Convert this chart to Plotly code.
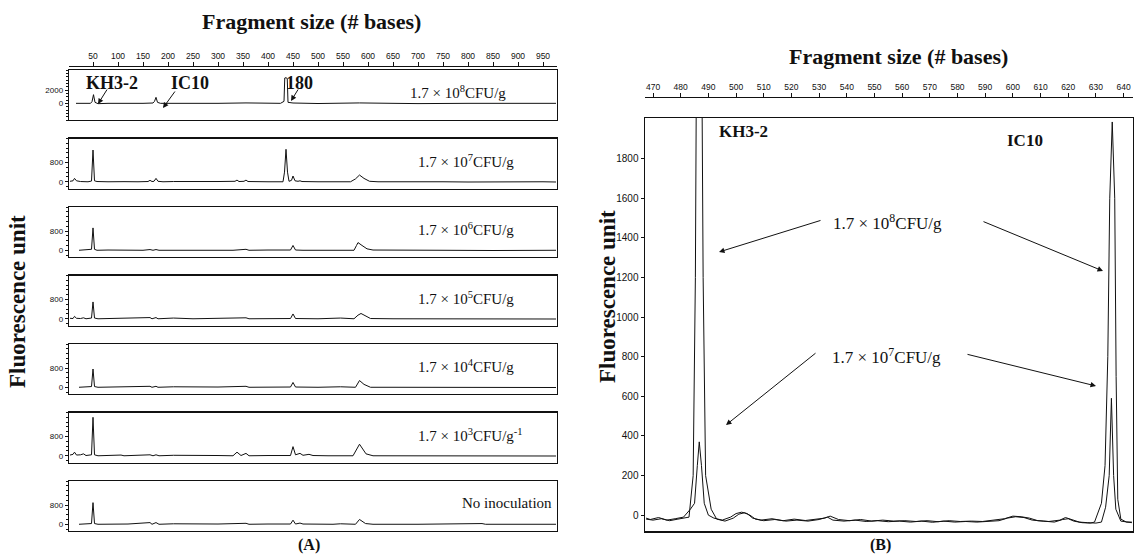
import plotly.graph_objects as go

W, H = 1134, 556
def X(px): return px / W
def Y(py): return 1 - py / H

# ---------------- DATA ----------------
# Panel A: fragment size (bases) / fluorescence for each dilution row
a1_x = [16, 30, 45, 48, 51, 54, 60, 80, 120, 150, 170, 173, 176, 179, 185, 230, 300, 356, 400, 425, 432, 433.5, 436, 438.5, 440, 450, 500, 583, 650, 700, 800, 900, 976]
a1_y = [0, -50, 0, 250, 1300, 150, -50, 0, -30, 0, 50, 300, 900, 150, 0, -40, 0, 60, -30, 0, 300, 3800, 3850, 3700, 150, 50, -30, 60, 0, -40, 0, -30, 0]

a2_x = [4, 10, 13, 17, 25, 40, 47, 50, 53, 58, 80, 100, 106, 112, 140, 160, 164, 168, 172, 176, 180, 190, 211, 250, 300, 334, 338, 342, 352, 356, 360, 400, 430, 433, 436, 439, 442, 447, 450, 454, 460, 464, 468, 500, 565, 575, 583, 592, 603, 620, 680, 750, 800, 850, 900, 950, 976]
a2_y = [20, 40, 140, 40, 10, 0, 30, 1320, 40, 10, 0, 10, 30, 5, 0, 10, 60, 10, 20, 140, 20, 0, 10, 0, 10, 20, 70, 10, 20, 70, 10, 0, 0, 400, 1350, 400, 20, 60, 240, 40, 20, 40, 10, 0, 0, 120, 280, 140, 20, 0, 10, 0, -10, 0, -10, 0, -10]

a3_x = [22, 40, 47, 50, 53, 58, 80, 150, 164, 170, 176, 182, 250, 330, 356, 362, 400, 445, 450, 455, 470, 540, 572, 577, 580, 588, 598, 610, 650, 750, 850, 976]
a3_y = [0, 10, 40, 930, 40, 0, 10, 0, 30, 0, 30, 0, 10, 0, 40, 0, 10, 10, 200, 10, 0, 10, 0, 200, 320, 200, 60, 10, 0, 0, -10, 0]

a4_x = [4, 10, 13, 17, 25, 31, 36, 47, 50, 53, 60, 100, 164, 168, 176, 180, 211, 250, 340, 356, 362, 400, 445, 450, 455, 500, 530, 545, 572, 580, 586, 594, 605, 650, 750, 850, 976]
a4_y = [20, 10, 100, 20, 10, 40, 0, 30, 700, 30, 0, 10, 50, 0, 50, 0, 30, 0, 10, 40, 0, 10, 10, 200, 10, 0, 10, 30, 0, 150, 220, 140, 10, 0, -10, 0, -10]

a5_x = [22, 47, 50, 53, 60, 120, 164, 168, 176, 180, 211, 300, 356, 362, 400, 445, 450, 455, 500, 545, 575, 583, 592, 605, 650, 750, 850, 976]
a5_y = [0, 30, 760, 30, 0, 10, 40, 0, 40, 0, 20, 10, 40, 0, 10, 10, 200, 10, 0, 20, 0, 280, 120, 0, 0, -10, 0, -10]

a6_x = [4, 10, 13, 17, 25, 31, 36, 47, 50, 53, 60, 100, 106, 112, 164, 170, 176, 182, 211, 300, 330, 338, 346, 356, 362, 400, 445, 450, 455, 464, 470, 482, 490, 520, 570, 583, 596, 610, 650, 750, 850, 976]
a6_y = [30, 60, 150, 30, 40, 80, 10, 40, 1600, 40, 0, 10, 30, 0, 40, 0, 40, 0, 20, 10, 0, 150, 10, 100, 0, 10, 10, 380, 40, 100, 20, 60, 10, 0, 0, 480, 80, 0, 0, -10, 0, -10]

a7_x = [22, 47, 50, 53, 60, 120, 164, 168, 176, 182, 211, 300, 356, 362, 400, 445, 450, 455, 464, 470, 530, 545, 575, 583, 595, 610, 700, 828, 835, 900, 976]
a7_y = [0, 30, 900, 30, 0, 10, 70, 0, 70, 0, 20, 10, 40, 0, 10, 10, 170, 10, 50, 10, 0, 20, 0, 200, 30, 0, 0, 30, 0, -10, 0]

a_rows_x = [a1_x, a2_x, a3_x, a4_x, a5_x, a6_x, a7_x]
a_rows_y = [a1_y, a2_y, a3_y, a4_y, a5_y, a6_y, a7_y]
a_labels = ["1.7 × 10<sup>8</sup>CFU/g", "1.7 × 10<sup>7</sup>CFU/g", "1.7 × 10<sup>6</sup>CFU/g",
            "1.7 × 10<sup>5</sup>CFU/g", "1.7 × 10<sup>4</sup>CFU/g", "1.7 × 10<sup>3</sup>CFU/g<sup>-1</sup>",
            "No inoculation"]
a_top_ticks = [50, 100, 150, 200, 250, 300, 350, 400, 450, 500, 550, 600, 650, 700, 750, 800, 850, 900, 950]
a_row1_yticks = [0, 2000]
a_yticks = [0, 800]

# Panel B: two overlaid traces (1.7x10^8 and 1.7x10^7 CFU/g)
b8_x = [467.5, 470, 473, 476, 479, 481, 483, 484.5, 485.3, 485.8, 487.5, 488.1, 489, 491, 493, 496, 499, 501, 503, 505, 507, 510, 514, 518, 522, 526, 530, 533, 535, 539, 543, 547, 551, 555, 559, 563, 567, 571, 575, 579, 583, 587, 591, 595, 598, 601, 604, 607, 611, 615, 618, 620, 622, 625, 628, 629.5, 632, 633.3, 634.3, 635.0, 635.9, 636.8, 637.3, 637.9, 639, 641, 643]
b8_y = [-20, -25, -18, -28, -20, -15, -10, 200, 1200, 2600, 2600, 1200, 200, 30, -20, -30, -15, 5, 12, 0, -20, -28, -22, -30, -25, -30, -22, -10, -25, -30, -25, -32, -28, -33, -30, -35, -30, -36, -30, -35, -32, -35, -30, -28, -15, -8, -12, -25, -30, -35, -22, -18, -30, -38, -40, -35, 60, 250, 800, 1600, 1985, 1600, 700, 80, -20, -35, -35]

b7_x = [467.5, 469, 472, 475, 478, 481, 483.5, 485, 486, 486.7, 487.5, 488.5, 490, 492, 495, 498, 500, 502, 504, 506, 509, 513, 517, 521, 525, 529, 532, 534, 537, 541, 545, 549, 553, 557, 561, 565, 569, 573, 577, 581, 585, 589, 593, 597, 600, 603, 606, 609, 613, 617, 619, 621, 624, 627, 630, 632, 633.5, 634.8, 635.6, 636.4, 637.2, 639, 641, 643]
b7_y = [-15, -22, -12, -25, -18, -10, 30, 60, 250, 370, 250, 60, 0, -15, -25, -10, 8, 15, 8, -15, -25, -18, -28, -20, -27, -20, -15, -5, -22, -28, -22, -30, -25, -30, -28, -32, -28, -33, -28, -32, -30, -32, -26, -18, -5, -8, -15, -28, -32, -25, -12, -20, -35, -38, -40, -35, 40, 200, 590, 200, 30, -30, -35, -38]

b_top_ticks = [470, 480, 490, 500, 510, 520, 530, 540, 550, 560, 570, 580, 590, 600, 610, 620, 630, 640]
b_yticks = [0, 200, 400, 600, 800, 1000, 1200, 1400, 1600, 1800]

# ---------------- LAYOUT ----------------
SERIF = "Liberation Serif"
SANS = "Liberation Sans"
INK = "#111111"

fig = go.Figure()
row_tops = [70, 138.5, 207, 275.5, 344, 412.5, 481]
row_h = 50
ax_left, ax_right = 69, 557
a_xrange = [2, 978]

layout = dict(width=W, height=H, margin=dict(l=0, r=0, t=0, b=0), autosize=False,
              paper_bgcolor="white", plot_bgcolor="white", showlegend=False)

for i in range(7):
    n = i + 1
    xa = "x" if n == 1 else f"x{n}"
    ya = "y" if n == 1 else f"y{n}"
    fig.add_trace(go.Scatter(x=a_rows_x[i], y=a_rows_y[i], mode="lines",
                             line=dict(color=INK, width=1), xaxis=xa, yaxis=ya,
                             hoverinfo="skip"))
    top, bot = row_tops[i], row_tops[i] + row_h
    if i == 0:
        yr = [-2500, 5000]; tv = a_row1_yticks; mdt = 500
    else:
        yr = [-280, 1800]; tv = a_yticks; mdt = 200
    layout[f"xaxis{n if n > 1 else ''}"] = dict(
        domain=[X(ax_left), X(ax_right)], range=a_xrange, anchor=ya,
        showline=True, mirror=True, linecolor=INK, linewidth=1.3,
        showgrid=False, zeroline=False, showticklabels=False, ticks="")
    layout[f"yaxis{n if n > 1 else ''}"] = dict(
        domain=[Y(bot), Y(top)], range=yr, anchor=xa,
        showline=True, mirror=True, linecolor=INK, linewidth=1.3,
        showgrid=False, zeroline=False, tickvals=tv, ticks="outside", ticklen=3,
        tickcolor=INK, tickfont=dict(family=SANS, size=8, color=INK),
        minor=dict(ticks="outside", ticklen=2, dtick=mdt, tickcolor=INK))

# Panel A top ruler (overlay axis)
fig.add_trace(go.Scatter(x=[500], y=[None], xaxis="x9", yaxis="y", hoverinfo="skip"))
layout["xaxis9"] = dict(overlaying="x", anchor="free", position=Y(66), side="top",
                        range=a_xrange, showline=True, linecolor=INK, linewidth=1.3,
                        tickvals=a_top_ticks, ticks="outside", ticklen=4, tickcolor=INK,
                        tickfont=dict(family=SANS, size=8.5, color=INK),
                        showgrid=False, zeroline=False)

# Panel B
bx_left, bx_right, b_top, b_bot = 645, 1133, 118, 531
b_xrange = [467.1, 643.4]
fig.add_trace(go.Scatter(x=b8_x, y=b8_y, mode="lines", line=dict(color=INK, width=1),
                         xaxis="x8", yaxis="y8", hoverinfo="skip"))
fig.add_trace(go.Scatter(x=b7_x, y=b7_y, mode="lines", line=dict(color=INK, width=1),
                         xaxis="x8", yaxis="y8", hoverinfo="skip"))
layout["xaxis8"] = dict(domain=[X(bx_left), X(bx_right)], range=b_xrange, anchor="y8",
                        showline=True, mirror=True, linecolor=INK, linewidth=1.5,
                        showgrid=False, zeroline=False, showticklabels=False, ticks="")
layout["yaxis8"] = dict(domain=[Y(b_bot), Y(b_top)], range=[-80, 2005], anchor="x8",
                        showline=True, mirror=True, linecolor=INK, linewidth=1.5,
                        showgrid=False, zeroline=False, tickvals=b_yticks, ticks="outside",
                        ticklen=3, tickcolor=INK,
                        tickfont=dict(family=SANS, size=10, color=INK))
fig.add_trace(go.Scatter(x=[550], y=[None], xaxis="x10", yaxis="y8", hoverinfo="skip"))
layout["xaxis10"] = dict(overlaying="x8", anchor="free", position=Y(97), side="top",
                         range=b_xrange, showline=True, linecolor=INK, linewidth=1.3,
                         tickvals=b_top_ticks, ticks="outside", ticklen=4, tickcolor=INK,
                         tickfont=dict(family=SANS, size=8.5, color=INK),
                         showgrid=False, zeroline=False)

fig.update_layout(**layout)

anns = []
def txt(px, py, s, size, bold=False, angle=0, family=SERIF):
    anns.append(dict(x=X(px), y=Y(py), xref="paper", yref="paper", showarrow=False,
                     text=f"<b>{s}</b>" if bold else s, textangle=angle,
                     xanchor="center", yanchor="middle",
                     font=dict(family=family, size=size, color=INK)))
def arrow(hx, hy, tx, ty, head=2):
    anns.append(dict(x=X(hx), y=Y(hy), xref="paper", yref="paper", text="",
                     showarrow=True, ax=tx - hx, ay=ty - hy, arrowhead=head,
                     arrowsize=1.1, arrowwidth=1, arrowcolor=INK))

# Panel A texts
txt(311, 22, "Fragment size (# bases)", 22, bold=True)
txt(17, 302, "Fluorescence unit", 23, bold=True, angle=-90)
txt(112, 83, "KH3-2", 18, bold=True)
txt(190, 83, "IC10", 18, bold=True)
txt(299, 83, "180", 18, bold=True)
label_x = [458, 466, 466, 466, 466, 470, 507]
for i, s in enumerate(a_labels):
    txt(label_x[i], row_tops[i] + 22, s, 15)
txt(309, 545, "(A)", 16, bold=True)
arrow(98, 104, 108, 88)
arrow(163, 108, 176, 90)
arrow(291, 101, 299, 88)

# Panel B texts
txt(898, 56, "Fragment size (# bases)", 22, bold=True)
txt(607, 297, "Fluorescence unit", 23, bold=True, angle=-90)
txt(743, 132, "KH3-2", 17, bold=True)
txt(1025, 140, "IC10", 17, bold=True)
txt(887, 222, "1.7 × 10<sup>8</sup>CFU/g", 17)
txt(886, 356, "1.7 × 10<sup>7</sup>CFU/g", 17)
txt(880, 545, "(B)", 16, bold=True)
arrow(719, 252, 822, 220)
arrow(1103, 271, 982, 221)
arrow(726, 425, 817, 352)
arrow(1096, 386, 966, 354)

fig.update_layout(annotations=anns)
fig.write_html("out.html", config={"displayModeBar": False, "staticPlot": True},
               post_script="document.body.style.margin='0';document.body.style.padding='0';")
